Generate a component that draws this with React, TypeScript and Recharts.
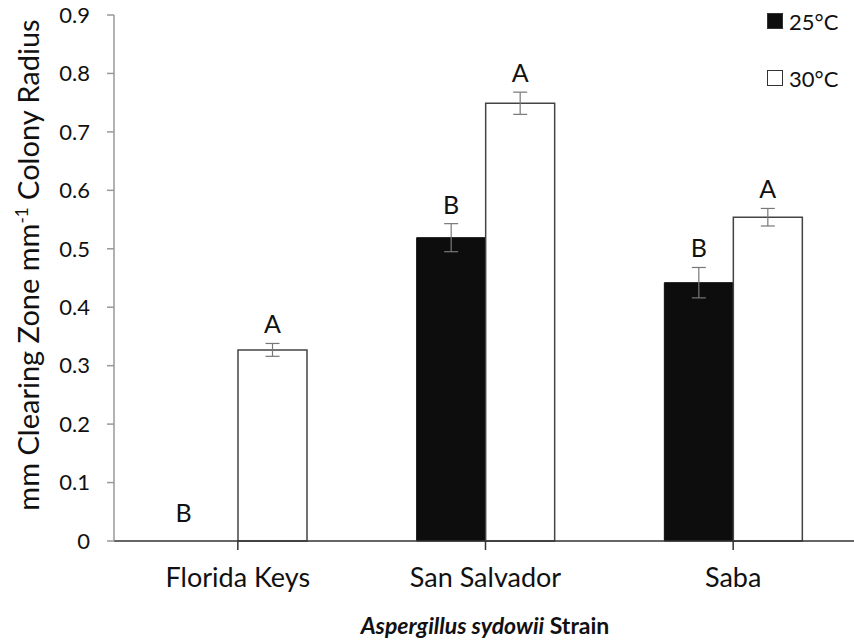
import { BarChart, Bar, XAxis, YAxis, ErrorBar, LabelList, Cell } from "recharts";

const FONT = "Lato, 'Open Sans', sans-serif";

// strains and mean clearing zone per mm colony radius
const strains = ["Florida Keys", "San Salvador", "Saba"];
const mean25 = [0, 0.519, 0.442];
const mean30 = [0.327, 0.749, 0.554];
const se25 = [0, 0.024, 0.026];
const se30 = [0.011, 0.019, 0.015];
const letters25 = ["B", "B", "B"];
const letters30 = ["A", "A", "A"];
const yTicks = [0, 0.1, 0.2, 0.3, 0.4, 0.5, 0.6, 0.7, 0.8, 0.9];
const legendItems = [
  { name: "25°C", fill: "#0d0d0d" },
  { name: "30°C", fill: "#fff" },
];

const data = strains.map((s, i) => ({
  strain: s,
  t25: mean25[i],
  t30: mean30[i],
  e25: se25[i],
  e30: se30[i],
}));

const Y_MAX = 0.9;
const PLOT_TOP = 15;
const X_AXIS_H = 30;
const PLOT_BOTTOM = 103;
const CHART_H = 644;
const PLOT_H = CHART_H - PLOT_TOP - PLOT_BOTTOM;

// significance letter sitting above the error bar
const letterLabel = (letters: string[], errs: number[]) => (props: any) => {
  const { x, y, width, index } = props;
  const value = Number(props.value);
  const errPx = (errs[index] / Y_MAX) * PLOT_H;
  let cx = x + width / 2;
  let cy = y - errPx - 20;
  if (value === 0) {
    cx -= 20;
    cy -= 8;
  }
  return (
    <text x={cx} y={cy} textAnchor="middle" dominantBaseline="central" fontFamily={FONT} fontSize={25} fill="#111">
      {letters[index]}
    </text>
  );
};

export default function App() {
  return (
    <div style={{ position: "absolute", left: 0, top: 0, width: 854, height: 644, overflow: "hidden", background: "#fff" }}>
      <BarChart
        width={857}
        height={CHART_H}
        data={data}
        margin={{ top: PLOT_TOP, right: 0, bottom: PLOT_BOTTOM - X_AXIS_H, left: 0 }}
        barGap={0}
        barSize={69}
      >
        <XAxis
          dataKey="strain"
          height={X_AXIS_H}
          axisLine={{ stroke: "#333", strokeWidth: 1.5 }}
          tickLine={{ stroke: "#333", strokeWidth: 1.5 }}
          tickSize={9}
          tickMargin={18}
          interval={0}
          tick={{ fontFamily: FONT, fontSize: 27, fill: "#111" }}
          label={{
            content: () => (
              <text x={485} y={634} textAnchor="middle" fontFamily={FONT} fontSize={23} fontWeight="bold" fill="#111">
                <tspan fontStyle="italic">Aspergillus sydowii</tspan>
                <tspan> Strain</tspan>
              </text>
            ),
          }}
        />
        <YAxis
          width={114}
          domain={[0, Y_MAX]}
          ticks={yTicks}
          interval={0}
          axisLine={{ stroke: "#999", strokeWidth: 1.5 }}
          tickLine={{ stroke: "#999", strokeWidth: 1.5 }}
          tickSize={7}
          tickMargin={17}
          tickFormatter={(v: number) => (v === 0 ? "0" : v.toFixed(1))}
          tick={{ fontFamily: FONT, fontSize: 22, fill: "#111" }}
          label={{
            content: () => (
              <text x={39} y={265} transform="rotate(-90 39 265)" textAnchor="middle" fontFamily={FONT} fontSize={29} fill="#111">
                <tspan>mm Clearing Zone mm</tspan>
                <tspan dy={-11} fontSize={17}>-1</tspan>
                <tspan dy={11}> Colony Radius</tspan>
              </text>
            ),
          }}
        />
        {/* zero-height bars keep a 1px slot so their letter still renders, but stay invisible */}
        <Bar dataKey="t25" name="25°C" fill="#0d0d0d" stroke="#0d0d0d" minPointSize={1} isAnimationActive={false}>
          {mean25.map((v, i) => (
            <Cell key={i} fillOpacity={v === 0 ? 0 : 1} strokeOpacity={v === 0 ? 0 : 1} />
          ))}
          <ErrorBar dataKey="e25" width={7} stroke="#777" strokeWidth={1.2} direction="y" />
          <LabelList dataKey="t25" content={letterLabel(letters25, se25)} />
        </Bar>
        <Bar dataKey="t30" name="30°C" fill="#fff" stroke="#444" strokeWidth={1.5} isAnimationActive={false}>
          <ErrorBar dataKey="e30" width={7} stroke="#777" strokeWidth={1.2} direction="y" />
          <LabelList dataKey="t30" content={letterLabel(letters30, se30)} />
        </Bar>
      </BarChart>
      <div style={{ position: "absolute", top: 8, left: 767, fontFamily: FONT, fontSize: 22, color: "#111" }}>
        {legendItems.map((l, i) => (
          <div key={l.name} style={{ display: "flex", alignItems: "center", height: 26, marginBottom: i === 0 ? 31 : 0 }}>
            <span style={{ width: 14, height: 14, background: l.fill, border: "1px solid #333", marginRight: 6, display: "inline-block" }} />
            <span>{l.name}</span>
          </div>
        ))}
      </div>
    </div>
  );
}
